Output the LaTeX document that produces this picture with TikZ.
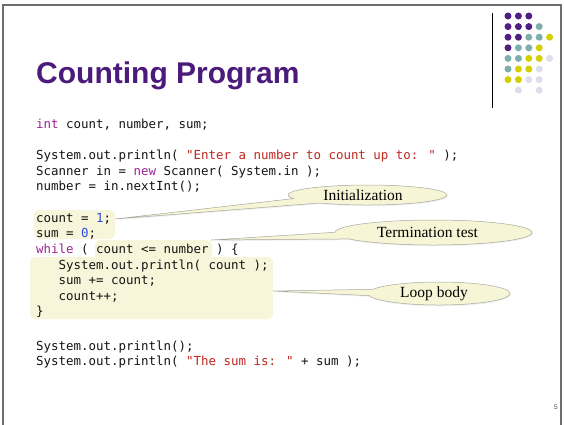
\documentclass[tikz,border=0pt]{standalone}
\usepackage{fontspec}
\setmainfont{Liberation Serif}
\newfontfamily\codefont{DejaVu Sans Mono}
\newfontfamily\titlefont{Liberation Sans}
\usetikzlibrary{shapes.callouts,shadows}
\definecolor{ttl}{HTML}{4B1A7A}
\definecolor{dP}{HTML}{4E1F80}
\definecolor{dT}{HTML}{7BAFAD}
\definecolor{dY}{HTML}{D4D000}
\definecolor{dL}{HTML}{DDDDEC}
\definecolor{kw}{HTML}{9B2393}
\definecolor{str}{HTML}{C0261E}
\definecolor{num}{HTML}{2A4BD7}
\definecolor{codetext}{HTML}{141414}
\definecolor{hlyellow}{HTML}{F7F6DA}
\definecolor{calloutfill}{HTML}{F6F5D6}
\definecolor{calloutline}{HTML}{A8A8A0}
\definecolor{framecol}{HTML}{6E6E6E}
\begin{document}
\begin{tikzpicture}[x=1pt,y=-1pt,
  code/.style={anchor=base west,inner sep=0pt,text=codetext,font=\codefont\fontsize{12.45}{15}\selectfont},
  hl/.style={fill=hlyellow,rounded corners=5pt},
  callout/.style={ellipse callout,callout pointer arc=32,draw=calloutline,line width=0.5pt,fill=calloutfill,inner sep=0pt,
    font=\fontsize{15.5}{18}\selectfont,
    drop shadow={opacity=0.12,shadow xshift=0.8pt,shadow yshift=-1.2pt}},
  framestyle/.style={draw=framecol,line width=1.4pt}
]
\useasboundingbox (0,0) rectangle (564,424);
\fill[white] (0,0) rectangle (564,424);
\draw[framestyle] (3,432) -- (3,5) -- (561,5) -- (561,432);

% logo
\draw[line width=0.9pt] (492,13) -- (492,108);
\foreach \i/\j/\c in {1/1/dP,2/1/dP,3/1/dP,
  1/2/dP,2/2/dP,3/2/dP,4/2/dT,
  1/3/dP,2/3/dP,3/3/dT,4/3/dT,5/3/dY,
  1/4/dP,2/4/dT,3/4/dT,4/4/dY,
  1/5/dT,2/5/dT,3/5/dY,4/5/dY,5/5/dL,
  1/6/dT,2/6/dY,3/6/dY,4/6/dL,
  1/7/dY,2/7/dY,3/7/dL,4/7/dL,
  2/8/dL,4/8/dL}
  \fill[\c] ({508+10.4*(\i-1)},{16+10.6*(\j-1)}) circle (3.5);

% title
\node[anchor=base west,inner sep=0pt,text=ttl,font=\titlefont\bfseries\fontsize{30}{36}\selectfont] (title) at (36,83) {Counting Program};

% highlights
\fill[hl] (34,210) rectangle (115,239);
\fill[hl] (95,240) rectangle (212,260);
\fill[hl] (30,257) rectangle (273,319);

% code
\node[code] (l1) at (36,128.5) {\textcolor{kw}{int} count, number, sum;};
\node[code] (l2) at (36,159.5) {System.out.println( \textcolor{str}{"Enter a number to count up to: "} );};
\node[code] (l3) at (36,175.1) {Scanner in = \textcolor{kw}{new} Scanner( System.in );};
\node[code] (l4) at (36,190.7) {number = in.nextInt();};
\node[code] (l5) at (36,222.3) {count = \textcolor{num}{1};};
\node[code] (l6) at (36,237.9) {sum = \textcolor{num}{0};};
\node[code] (l7) at (36,253.5) {\textcolor{kw}{while} ( count <= number ) \{};
\node[code] (l8) at (58.5,269.1) {System.out.println( count );};
\node[code] (l9) at (58.5,284.7) {sum += count;};
\node[code] (l10) at (58.5,300.3) {count++;};
\node[code] (l11) at (36,315.9) {\}};
\node[code] (l12) at (36,350) {System.out.println();};
\node[code] (l13) at (36,365.6) {System.out.println( \textcolor{str}{"The sum is: "} + sum );};

% callouts
\coordinate (pinit) at (115,219);
\coordinate (pterm) at (211,240);
\coordinate (ploop) at (273,291);
\node[callout,callout absolute pointer=(pinit),minimum width=159pt,minimum height=20pt] (init) at (367.5,195) {Initialization\hspace*{9pt}};
\node[callout,callout absolute pointer=(pterm),minimum width=197pt,minimum height=25pt] (term) at (433.5,232.5) {Termination test\hspace*{12pt}};
\node[callout,callout absolute pointer=(ploop),minimum width=142pt,minimum height=23pt] (loop) at (439,293.5) {Loop body\hspace*{10pt}};

% page number
\node[anchor=base,inner sep=0pt,text=black!75,font=\titlefont\fontsize{6.5}{8}\selectfont] (pnum) at (556,409) {5};
\end{tikzpicture}
\end{document}
